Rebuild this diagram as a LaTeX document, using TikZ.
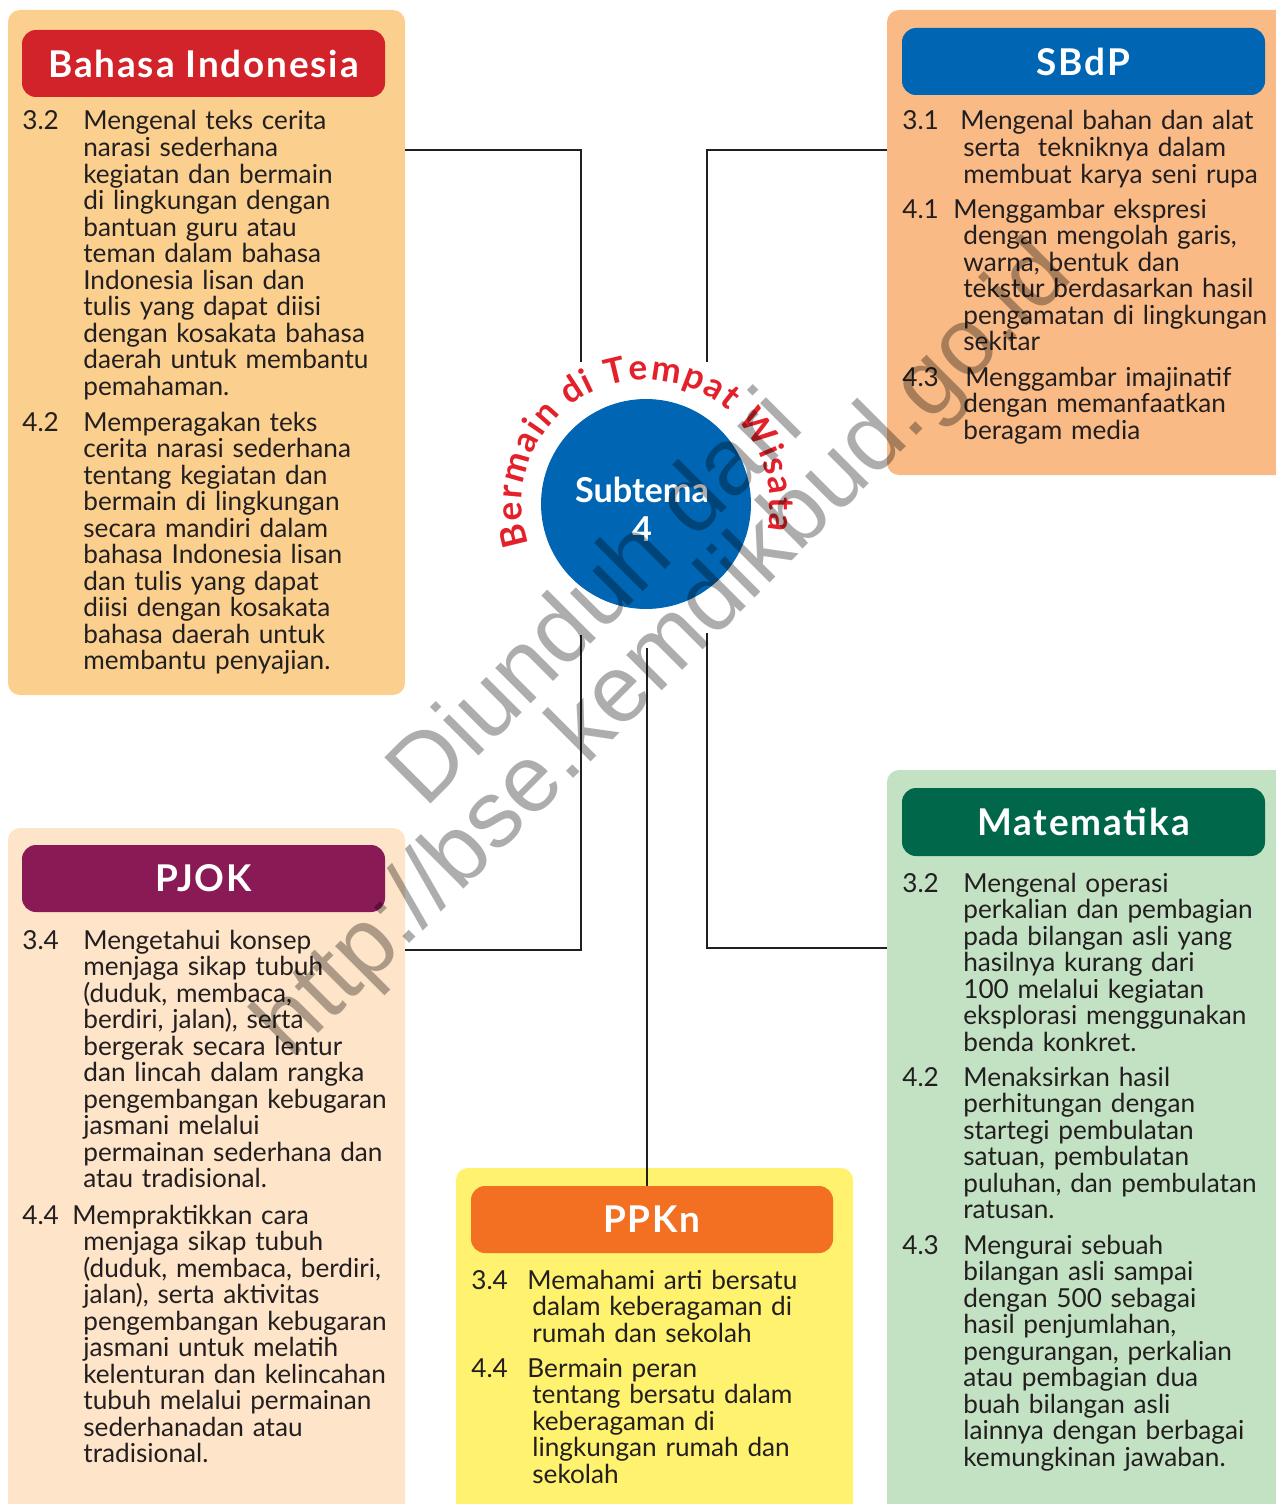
\documentclass[tikz,border=0pt]{standalone}
\usepackage{fontspec}
\setmainfont{Lato}
\newfontfamily\headfont[LetterSpace=5]{Lato}
\newfontfamily\wmfont{Liberation Sans}
\usetikzlibrary{fit,decorations.text}

\definecolor{ink}{HTML}{231F20}
\definecolor{bipanel}{HTML}{FBCF8E}
\definecolor{bihead}{HTML}{D2232A}
\definecolor{sbpanel}{HTML}{F9BA85}
\definecolor{sbhead}{HTML}{0066B3}
\definecolor{mtkpanel}{HTML}{C3E2C3}
\definecolor{mtkhead}{HTML}{00674A}
\definecolor{pjokpanel}{HTML}{FEE4C8}
\definecolor{pjokhead}{HTML}{8A1A56}
\definecolor{ppknpanel}{HTML}{FFF26E}
\definecolor{ppknhead}{HTML}{F37022}
\definecolor{arcred}{HTML}{E4202A}

\tikzset{
  panel/.style={inner sep=0pt, outer sep=0pt, rounded corners=0.24cm},
  head/.style={inner sep=0pt, outer sep=0pt, rounded corners=0.28cm},
  headtxt/.style={inner sep=0pt, text=white, font=\headfont\bfseries\fontsize{21}{24}\selectfont},
  kd/.style={anchor=base west, inner sep=0pt, text width=190pt, align=left, text=ink, font=\fontsize{14.9}{15.1}\selectfont,
    execute at begin node={\setlength{\lineskiplimit}{-50pt}}},
  kdno/.style={anchor=base west, inner sep=0pt, text=ink, font=\fontsize{14.9}{15.1}\selectfont},
  link/.style={draw=ink, line width=1.1pt},
  subtxt/.style={anchor=base, inner sep=0pt, text=white, font=\bfseries\fontsize{19.5}{22}\selectfont},
  wmark/.style={rotate=45, inner sep=0pt, text=black, text opacity=0.32, font=\wmfont\fontsize{54}{54}\selectfont},
}

\begin{document}
\begin{tikzpicture}[x=0.02cm,y=-0.02cm]
\useasboundingbox (0,0) rectangle (1275,1504);

% panels
\node[panel, fill=bipanel, fit={(8,10) (405,695)}] (bindo) {};
\node[panel, fill=sbpanel, fit={(887,10) (1295,475)}] (sbdp) {};
\node[panel, fill=mtkpanel, fit={(887,770) (1295,1525)}] (mtk) {};
\node[panel, fill=pjokpanel, fit={(8,828) (405,1525)}] (pjok) {};
\node[panel, fill=ppknpanel, fit={(456,1168) (853,1525)}] (ppkn) {};

% headers
\node[head, fill=bihead, fit={(22,30) (385,97)}] (bihd) {};
\node[head, fill=sbhead, fit={(902,28) (1265,95)}] (sbhd) {};
\node[head, fill=mtkhead, fit={(902,788) (1265,856)}] (mtkhd) {};
\node[head, fill=pjokhead, fit={(22,845) (385,912)}] (pjokhd) {};
\node[head, fill=ppknhead, fit={(471,1186) (833,1253)}] (ppknhd) {};
\node[headtxt] (bihdt) at (bihd) {Bahasa Indonesia};
\node[headtxt] (sbhdt) at (sbhd) {SBdP};
\node[headtxt] (mtkhdt) at (mtkhd) {Matematika};
\node[headtxt] (pjokhdt) at (pjokhd) {PJOK};
\node[headtxt] (ppknhdt) at (ppknhd) {PPKn};

% Bahasa Indonesia
\node[kdno] (nbi32) at (22,130) {3.2};
\node[kd] (bi32) at (83,130) {Mengenal teks cerita\\ narasi sederhana\\ kegiatan dan bermain\\ di lingkungan dengan\\ bantuan guru atau\\ teman dalam bahasa\\ Indonesia lisan dan\\ tulis yang dapat diisi\\ dengan kosakata bahasa\\ daerah untuk membantu\\ pemahaman.};
\node[kdno] (nbi42) at (22,431) {4.2};
\node[kd] (bi42) at (83,431) {Memperagakan teks\\ cerita narasi sederhana\\ tentang kegiatan dan\\ bermain di lingkungan\\ secara mandiri dalam\\ bahasa Indonesia lisan\\ dan tulis yang dapat\\ diisi dengan kosakata\\ bahasa daerah untuk\\ membantu penyajian.};

% SBdP
\node[kdno] (nsb31) at (902,130) {3.1};
\node[kd] (sb31) at (963,130) {\hspace*{-1.7pt}Mengenal bahan dan alat\\ serta~ tekniknya dalam\\ membuat karya seni rupa};
\node[kdno] (nsb41) at (902,218) {4.1};
\node[kd] (sb41) at (963,218) {\hspace*{-5.7pt}Menggambar ekspresi\\ dengan mengolah garis,\\ warna, bentuk dan\\ tekstur berdasarkan hasil\\ pengamatan di lingkungan\\ sekitar};
\node[kdno] (nsb43) at (902,386) {4.3};
\node[kd] (sb43) at (963,386) {\hspace*{1.1pt}Menggambar imajinatif\\ dengan memanfaatkan\\ beragam media};

% Matematika
\node[kdno] (nmtk32) at (902,892) {3.2};
\node[kd] (mtk32) at (963,892) {Mengenal operasi\\ perkalian dan pembagian\\ pada bilangan asli yang\\ hasilnya kurang dari\\ 100 melalui kegiatan\\ eksplorasi menggunakan\\ benda konkret.};
\node[kdno] (nmtk42) at (902,1086) {4.2};
\node[kd] (mtk42) at (963,1086) {Menaksirkan hasil\\ perhitungan dengan\\ startegi pembulatan\\ satuan, pembulatan\\ puluhan, dan pembulatan\\ ratusan.};
\node[kdno] (nmtk43) at (902,1254) {4.3};
\node[kd] (mtk43) at (963,1254) {Mengurai sebuah\\ bilangan asli sampai\\ dengan 500 sebagai\\ hasil penjumlahan,\\ pengurangan, perkalian\\ atau pembagian dua\\ buah bilangan asli\\ lainnya dengan berbagai\\ kemungkinan jawaban.};

% PJOK
\node[kdno] (npj34) at (22,949) {3.4};
\node[kd] (pj34) at (83,949) {Mengetahui konsep\\ menjaga sikap tubuh\\ (duduk, membaca,\\ berdiri, jalan), serta\\ bergerak secara lentur\\ dan lincah dalam rangka\\ pengembangan kebugaran\\ jasmani melalui\\ permainan sederhana dan\\ atau tradisional.};
\node[kdno] (npj44) at (22,1224) {4.4};
\node[kd] (pj44) at (83,1224) {\hspace*{-6.2pt}Mempraktikkan cara\\ menjaga sikap tubuh\\ (duduk, membaca, berdiri,\\ jalan), serta aktivitas\\ pengembangan kebugaran\\ jasmani untuk melatih\\ kelenturan dan kelincahan\\ tubuh melalui permainan\\ sederhanadan atau\\ tradisional.};

% PPKn
\node[kdno] (npp34) at (471,1289) {3.4};
\node[kd] (pp34) at (532,1289) {\hspace*{-2.8pt}Memahami arti bersatu\\ dalam keberagaman di\\ rumah dan sekolah};
\node[kdno] (npp44) at (471,1377) {4.4};
\node[kd] (pp44) at (532,1377) {\hspace*{-2.8pt}Bermain peran\\ tentang bersatu dalam\\ keberagaman di\\ lingkungan rumah dan\\ sekolah};

% subtema
\node[circle, fill=sbhead, minimum size=4.2cm, inner sep=0pt] (sub) at (646,504) {};
\node[subtxt] (subt) at (642,502) {Subtema};
\node[subtxt] (subn) at (642,541) {4};
\begin{scope}[shift={(sub.center)}, x=0.02cm, y=0.02cm]
  \path[decorate, decoration={text along path, text color=arcred, text align={fit to path},
    text={|\bfseries\fontsize{20}{20}\selectfont|Bermain di Tempat Wisata}}]
    (199:124) arc[start angle=199, end angle=-12, radius=124];
\end{scope}

% connectors
\coordinate (jtl) at (581,150);
\coordinate (tl) at (581,362);
\coordinate (jtr) at (707,150);
\coordinate (tr) at (707,362);
\coordinate (jbl) at (581,950);
\coordinate (bl) at (581,635);
\coordinate (jbr) at (707,948);
\coordinate (br) at (707,633);
\coordinate (bc) at (647,648);
\draw[link] (bindo.east |- jtl) -- (jtl) -- (tl);
\draw[link] (sbdp.west |- jtr) -- (jtr) -- (tr);
\draw[link] (pjok.east |- jbl) -- (jbl) -- (bl);
\draw[link] (mtk.west |- jbr) -- (jbr) -- (br);
\draw[link] (bc) -- (bc |- ppknhd.north);

% watermark
\node[wmark] (wm1) at (592,595) {Diunduh dari};
\node[wmark] (wm2) at (666,652) {http://bse.kemdikbud.go.id};
\end{tikzpicture}
\end{document}
